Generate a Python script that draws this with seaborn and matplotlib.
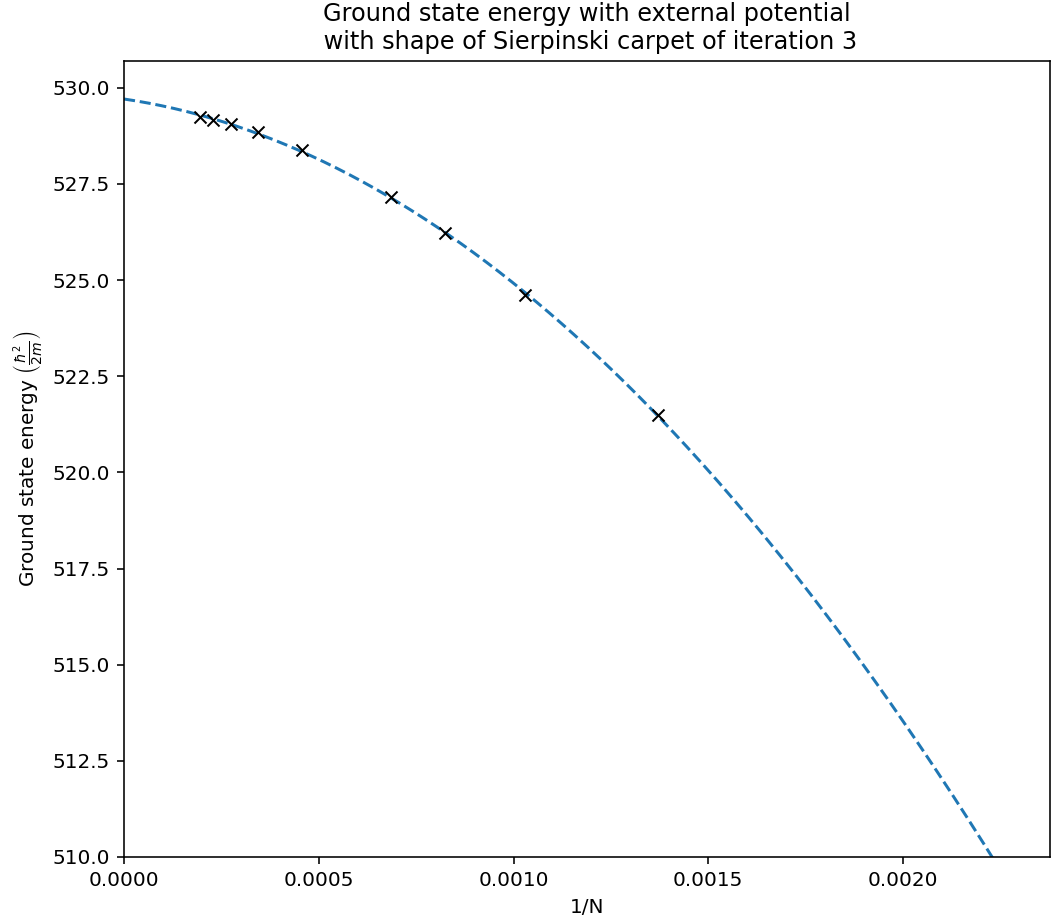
import numpy as np
import pandas as pd
import matplotlib
matplotlib.use('Agg')
import matplotlib.pyplot as plt
import seaborn as sns

# Number of grid points used for each run
grid_sizes = [5103, 4374, 3645, 2916, 2187, 1458, 1215, 972, 729]

# Ground state energies
energies = [529.24, 529.17, 529.06, 528.84, 528.39, 527.16, 526.23, 524.60, 521.49]

df = pd.DataFrame({'inv_N': 1 / np.array(grid_sizes), 'E': energies})

# Quadratic extrapolation towards 1/N -> 0
coeffs = np.polyfit(df['inv_N'], df['E'], 2)
x_fit = np.linspace(0, 0.0024, 300)
fit_df = pd.DataFrame({'inv_N': x_fit, 'E': np.polyval(coeffs, x_fit)})

dpi = 144
fig, ax = plt.subplots(figsize=(1052 / dpi, 921 / dpi), dpi=dpi)
fig.subplots_adjust(left=0.1179, right=0.998, top=0.934, bottom=0.0695)

sns.lineplot(x='inv_N', y='E', data=fit_df, ax=ax, color='#1f77b4',
             linestyle='--', linewidth=1.5)
sns.scatterplot(x='inv_N', y='E', data=df, ax=ax, marker='x', color='black',
                s=36, linewidth=1.0, zorder=3)

ax.set_xlim(0, 0.002377)
ax.set_ylim(510, 530.7)
ax.set_title('Ground state energy with external potential\n with shape of Sierpinski carpet of iteration 3')
ax.set_xlabel('1/N')
ax.set_ylabel(r'Ground state energy $\left(\frac{\hbar^2}{2m}\right)$')

fig.savefig('out.png', dpi=dpi)
